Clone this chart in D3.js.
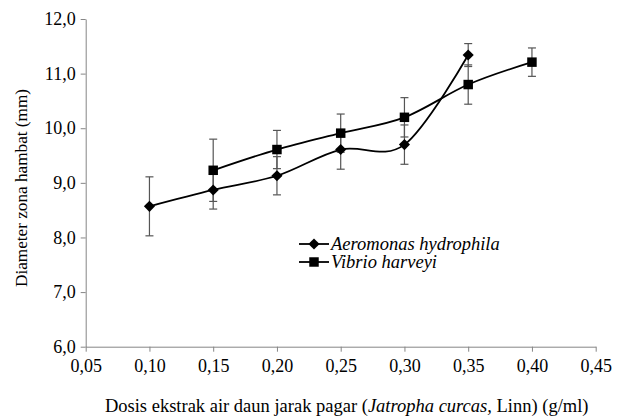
<!DOCTYPE html>
<html>
<head>
<meta charset="utf-8">
<script src="https://cdn.jsdelivr.net/npm/d3@7"></script>
<style>
  html, body { margin: 0; padding: 0; background: #fff; }
  svg { display: block; }
</style>
</head>
<body>
<div id="chart"></div>
<script>
(function chart() {

    // data
    const aeroDose = [0.10, 0.15, 0.20, 0.25, 0.30, 0.35];
    const aeroValues = [8.57, 8.87, 9.13, 9.61, 9.70, 11.34];
    const aeroErrors = [0.54, 0.35, 0.35, 0.36, 0.36, 0.21];
    const vibrioDose = [0.15, 0.20, 0.25, 0.30, 0.35, 0.40];
    const vibrioValues = [9.23, 9.61, 9.91, 10.20, 10.80, 11.21];
    const vibrioErrors = [0.57, 0.35, 0.35, 0.36, 0.36, 0.26];
    const xTicks = [0.05, 0.10, 0.15, 0.20, 0.25, 0.30, 0.35, 0.40, 0.45];
    const yTicks = [6, 7, 8, 9, 10, 11, 12];
    const seriesNames = ["Aeromonas hydrophila", "Vibrio harveyi"];

    const WIDTH = 619;
    const HEIGHT = 416;
    const FONT = "Liberation Serif";
    const margin = { left: 85.7, right: 23.3, top: 19, bottom: 69.3 };

    const svg = d3.select("#chart").append("svg")
        .attr("width", WIDTH)
        .attr("height", HEIGHT)
        .attr("font-family", FONT);

    const x = d3.scaleLinear()
        .domain([0.05, 0.45])
        .range([margin.left, WIDTH - margin.right]);
    const y = d3.scaleLinear()
        .domain([6, 12])
        .range([HEIGHT - margin.bottom, margin.top]);

    const fmt1 = d => d.toFixed(1).replace(".", ",");
    const fmt2 = d => d.toFixed(2).replace(".", ",");

    // axes
    const xAxis = svg.append("g")
        .attr("transform", `translate(0,${y(6)})`)
        .call(d3.axisBottom(x).tickValues(xTicks).tickFormat(fmt2).tickSize(5).tickSizeOuter(0));
    const yAxis = svg.append("g")
        .attr("transform", `translate(${x(0.05)},0)`)
        .call(d3.axisLeft(y).tickValues(yTicks).tickFormat(fmt1).tickSize(5).tickSizeOuter(0));

    [xAxis, yAxis].forEach(g => {
        g.attr("font-family", FONT).attr("font-size", 18);
        g.select(".domain").attr("stroke", "#868686").attr("stroke-width", 1);
        g.selectAll(".tick line").attr("stroke", "#868686");
        g.selectAll(".tick text")
            .attr("fill", "#000")
            .attr("font-family", FONT)
            .attr("font-size", 18);
    });
    xAxis.selectAll(".tick text").attr("dy", "0.71em").attr("y", 13);
    yAxis.selectAll(".tick text").attr("x", -10);

    // axis titles
    svg.append("text")
        .attr("transform", "translate(27,188) rotate(-90)")
        .attr("text-anchor", "middle")
        .attr("font-family", FONT)
        .attr("font-size", 17.2)
        .text("Diameter zona hambat (mm)");

    const xt = svg.append("text")
        .attr("x", (x(0.05) + x(0.45)) / 2 + 6)
        .attr("y", 412)
        .attr("text-anchor", "middle")
        .attr("font-family", FONT)
        .attr("font-size", 18.5);
    xt.append("tspan").text("Dosis ekstrak air daun jarak pagar (");
    xt.append("tspan").attr("font-style", "italic").text("Jatropha curcas,");
    xt.append("tspan").text(" Linn) (g/ml)");

    const line = d3.line()
        .x(d => x(d[0]))
        .y(d => y(d[1]))
        .curve(d3.curveCardinal.tension(0));

    const series = [
        { dose: aeroDose, values: aeroValues, errors: aeroErrors, symbol: d3.symbolSquare, size: 62, rot: 45 },
        { dose: vibrioDose, values: vibrioValues, errors: vibrioErrors, symbol: d3.symbolSquare, size: 90, rot: 0 }
    ];

    // error bars
    series.forEach(s => {
        const g = svg.append("g");
        s.dose.forEach((d, i) => {
            const lo = s.values[i] - s.errors[i];
            const hi = s.values[i] + s.errors[i];
            g.append("line")
                .attr("x1", x(d)).attr("x2", x(d))
                .attr("y1", y(lo)).attr("y2", y(hi))
                .attr("stroke", "#555").attr("stroke-width", 1.2);
            [lo, hi].forEach(v => {
                g.append("line")
                    .attr("x1", x(d) - 4).attr("x2", x(d) + 4)
                    .attr("y1", y(v)).attr("y2", y(v))
                    .attr("stroke", "#555").attr("stroke-width", 1.2);
            });
        });
    });

    // lines and markers
    series.forEach(s => {
        const pts = s.dose.map((d, i) => [d, s.values[i]]);
        svg.append("path")
            .datum(pts)
            .attr("fill", "none")
            .attr("stroke", "#000")
            .attr("stroke-width", 1.8)
            .attr("d", line);
        svg.selectAll(null)
            .data(pts)
            .enter().append("path")
            .attr("transform", d => `translate(${x(d[0])},${y(d[1])}) rotate(${s.rot})`)
            .attr("d", d3.symbol().type(s.symbol).size(s.size))
            .attr("fill", "#000");
    });

    // legend
    const legend = svg.append("g").attr("transform", "translate(299,244)");
    series.forEach((s, i) => {
        const row = legend.append("g").attr("transform", `translate(0,${i * 18})`);
        row.append("line")
            .attr("x1", 0).attr("x2", 30)
            .attr("stroke", "#000").attr("stroke-width", 1.8);
        row.append("path")
            .attr("transform", `translate(15,0) rotate(${s.rot})`)
            .attr("d", d3.symbol().type(s.symbol).size(s.size))
            .attr("fill", "#000");
        row.append("text")
            .attr("x", 32)
            .attr("dy", "0.33em")
            .attr("font-family", FONT)
            .attr("font-size", 18.5)
            .attr("font-style", "italic")
            .text(seriesNames[i]);
    });

})();
</script>
</body>
</html>
